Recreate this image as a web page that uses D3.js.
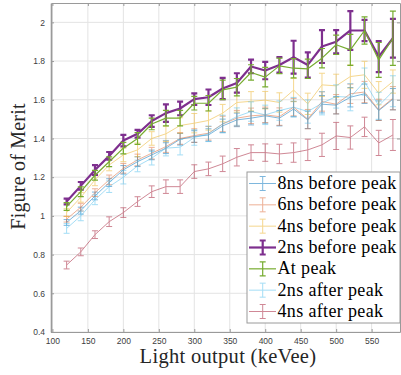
<!DOCTYPE html>
<html><head><meta charset="utf-8">
<script src="https://cdn.jsdelivr.net/npm/d3@7"></script>
<style>
html,body{margin:0;padding:0;background:#fff;}
svg{display:block;}
.serif{font-family:"Liberation Serif","DejaVu Serif",serif;}
.sans{font-family:"Liberation Sans",Arial,sans-serif;}
</style></head>
<body>
<svg id="chart" width="401" height="375"></svg>
<script>
const lightOutput = [120,140,160,180,200,220,240,260,280,300,320,340,360,380,400,420,440,460,480,500,520,540,560,580];

const seriesNames = ["8ns before peak","6ns before peak","4ns before peak","2ns before peak","At peak","2ns after peak","4ns after peak"];

const fom8nsBefore = [0.966,1.027,1.103,1.172,1.238,1.280,1.315,1.350,1.396,1.410,1.418,1.465,1.496,1.505,1.517,1.505,1.552,1.496,1.577,1.572,1.613,1.631,1.544,1.603];
const err8nsBefore = [0.015,0.018,0.02,0.02,0.022,0.025,0.025,0.028,0.03,0.03,0.032,0.035,0.035,0.035,0.038,0.04,0.04,0.045,0.045,0.045,0.05,0.05,0.05,0.055];

const fom6nsBefore = [0.983,1.045,1.120,1.186,1.246,1.289,1.324,1.358,1.400,1.415,1.427,1.475,1.505,1.517,1.522,1.513,1.562,1.500,1.591,1.577,1.631,1.640,1.548,1.608];
const err6nsBefore = [0.015,0.02,0.02,0.025,0.025,0.03,0.03,0.03,0.03,0.035,0.035,0.04,0.04,0.04,0.04,0.045,0.045,0.05,0.05,0.05,0.05,0.055,0.055,0.06];

const fom4nsBefore = [1.017,1.096,1.186,1.263,1.315,1.341,1.400,1.424,1.467,1.479,1.493,1.531,1.586,1.592,1.598,1.586,1.650,1.579,1.677,1.672,1.720,1.729,1.634,1.694];
const err4nsBefore = [0.02,0.025,0.03,0.03,0.035,0.035,0.035,0.04,0.04,0.05,0.05,0.045,0.05,0.05,0.045,0.05,0.06,0.055,0.06,0.06,0.06,0.07,0.06,0.06];

const fom2nsBefore = [1.074,1.155,1.237,1.310,1.389,1.424,1.490,1.531,1.555,1.603,1.613,1.658,1.687,1.772,1.751,1.780,1.820,1.780,1.875,1.900,1.958,1.958,1.823,1.918];
const err2nsBefore = [0.015,0.02,0.025,0.02,0.03,0.02,0.03,0.045,0.035,0.03,0.04,0.055,0.05,0.035,0.045,0.04,0.085,0.065,0.085,0.06,0.1,0.055,0.08,0.1];

const fomAtPeak = [1.048,1.125,1.210,1.280,1.350,1.400,1.475,1.505,1.505,1.582,1.582,1.651,1.665,1.741,1.717,1.775,1.763,1.760,1.815,1.884,1.858,1.958,1.806,1.918];
const errAtPeak = [0.02,0.025,0.025,0.025,0.03,0.03,0.03,0.04,0.04,0.035,0.04,0.05,0.045,0.04,0.05,0.04,0.05,0.05,0.05,0.05,0.08,0.07,0.09,0.14];

const fom2nsAfter = [0.935,1.000,1.083,1.151,1.200,1.258,1.298,1.350,1.355,1.405,1.424,1.475,1.513,1.539,1.522,1.544,1.562,1.539,1.582,1.617,1.613,1.694,1.569,1.644];
const err2nsAfter = [0.025,0.025,0.025,0.03,0.035,0.03,0.035,0.04,0.04,0.04,0.04,0.045,0.045,0.05,0.05,0.05,0.05,0.06,0.06,0.06,0.07,0.07,0.07,0.08];

const fom4nsAfter = [0.746,0.814,0.903,0.970,1.017,1.074,1.125,1.151,1.151,1.229,1.243,1.269,1.303,1.327,1.327,1.320,1.327,1.341,1.367,1.413,1.405,1.460,1.377,1.418];
const err4nsAfter = [0.02,0.02,0.02,0.025,0.025,0.025,0.03,0.035,0.035,0.035,0.035,0.04,0.045,0.04,0.045,0.05,0.05,0.055,0.06,0.07,0.06,0.05,0.065,0.08];

const xTicks = [100,150,200,250,300,350,400,450,500,550];
const yTicks = [0.4,0.6,0.8,1,1.2,1.4,1.6,1.8,2];

const seriesData = [
  {name: seriesNames[0], y: fom8nsBefore, e: err8nsBefore, color: "#0072BD", op: 0.5, w: 1},
  {name: seriesNames[1], y: fom6nsBefore, e: err6nsBefore, color: "#D95319", op: 0.45, w: 1},
  {name: seriesNames[2], y: fom4nsBefore, e: err4nsBefore, color: "#EDB120", op: 0.5, w: 1},
  {name: seriesNames[3], y: fom2nsBefore, e: err2nsBefore, color: "#7E2F8E", op: 1, w: 2.2},
  {name: seriesNames[4], y: fomAtPeak, e: errAtPeak, color: "#77AC30", op: 1, w: 1.2},
  {name: seriesNames[5], y: fom2nsAfter, e: err2nsAfter, color: "#4DBEEE", op: 0.5, w: 1},
  {name: seriesNames[6], y: fom4nsAfter, e: err4nsAfter, color: "#A2142F", op: 0.5, w: 1}
];

const svg = d3.select("#chart");
const L = 51, R = 400, T = 3, B = 332;
const x = d3.scaleLinear().domain([98, 590]).range([L, R]);
const y = d3.scaleLinear().domain([0.4, 2.1]).range([B, T]);

// grid
const grid = svg.append("g");
grid.selectAll("line.gx").data(xTicks).join("line")
  .attr("x1", d => x(d)).attr("x2", d => x(d)).attr("y1", T).attr("y2", B)
  .attr("stroke", "#e3e3e3").attr("stroke-width", 1);
grid.selectAll("line.gy").data(yTicks).join("line")
  .attr("x1", L).attr("x2", R).attr("y1", d => y(d)).attr("y2", d => y(d))
  .attr("stroke", "#e3e3e3").attr("stroke-width", 1);

// axes
const axisColor = "#9a9a9a";
const xAxisB = svg.append("g").attr("transform", `translate(0,${B})`)
  .call(d3.axisBottom(x).tickValues(xTicks).tickSizeInner(-3).tickSizeOuter(0).tickPadding(6));
const xAxisT = svg.append("g").attr("transform", `translate(0,${T})`)
  .call(d3.axisTop(x).tickValues(xTicks).tickSizeInner(-3).tickSizeOuter(0).tickFormat(""));
const yAxisL = svg.append("g").attr("transform", `translate(${L},0)`)
  .call(d3.axisLeft(y).tickValues(yTicks).tickSizeInner(-3).tickSizeOuter(0).tickPadding(6).tickFormat(d3.format("")));
const yAxisR = svg.append("g").attr("transform", `translate(${R},0)`)
  .call(d3.axisRight(y).tickValues(yTicks).tickSizeInner(-3).tickSizeOuter(0).tickFormat(""));
[xAxisB, xAxisT, yAxisL, yAxisR].forEach(g => {
  g.attr("font-family", null).attr("font-size", null);
  g.select(".domain").attr("stroke", axisColor).attr("stroke-width", 1);
  g.selectAll(".tick line").attr("stroke", axisColor);
  g.selectAll("text").attr("fill", "#404040").attr("class", "sans")
    .attr("font-size", "8.5px");
});
yAxisL.select(".domain").attr("stroke-width", 1.6);

// series
const plot = svg.append("g");
seriesData.forEach(s => {
  const g = plot.append("g").attr("opacity", s.op);
  const pts = lightOutput.map((xv, i) => ({x: xv, y: s.y[i], e: s.e[i]}));
  g.append("path").datum(pts)
    .attr("fill", "none").attr("stroke", s.color).attr("stroke-width", s.w)
    .attr("stroke-linejoin", "round")
    .attr("d", d3.line().x(d => x(d.x)).y(d => y(d.y)));
  const cw = 3;
  const eb = g.selectAll("g.eb").data(pts).join("g");
  eb.append("path")
    .attr("fill", "none").attr("stroke", s.color).attr("stroke-width", s.w)
    .attr("d", d => {
      const cx = x(d.x), y1 = y(d.y + d.e), y2 = y(d.y - d.e);
      return `M${cx},${y1}V${y2}M${cx - cw},${y1}H${cx + cw}M${cx - cw},${y2}H${cx + cw}`;
    });
});

// legend
const lg = svg.append("g");
const lx = 247, ly = 172, lw = 153, lh = 151;
lg.append("rect").attr("x", lx).attr("y", ly).attr("width", lw).attr("height", lh)
  .attr("fill", "#fff").attr("stroke", axisColor).attr("stroke-width", 1);
const rowY = d3.scaleLinear().domain([0, 6]).range([183.5, 311.5]);
seriesData.forEach((s, i) => {
  const cy = rowY(i);
  const g = lg.append("g").attr("opacity", s.op);
  g.append("line").attr("x1", 249).attr("x2", 276).attr("y1", cy).attr("y2", cy)
    .attr("stroke", s.color).attr("stroke-width", s.w);
  g.append("path").attr("fill", "none").attr("stroke", s.color).attr("stroke-width", s.w)
    .attr("d", `M262.7,${cy - 7}V${cy + 7}M259.7,${cy - 7}H265.7M259.7,${cy + 7}H265.7`);
  lg.append("text").attr("x", 277.5).attr("y", cy + 5.5).attr("class", "serif")
    .attr("font-size", "18px").attr("letter-spacing", "0.35px")
    .attr("fill", "#000").text(s.name);
});

// axis labels
svg.append("text").attr("x", 228).attr("y", 363).attr("text-anchor", "middle").attr("class", "serif")
  .attr("font-size", "20.5px").attr("letter-spacing", "0.3px")
  .attr("fill", "#262626").text("Light output (keVee)");
svg.append("text").attr("transform", "translate(25,166.5) rotate(-90)").attr("text-anchor", "middle").attr("class", "serif")
  .attr("font-size", "20px").attr("letter-spacing", "0.2px")
  .attr("fill", "#262626").text("Figure of Merit");
</script>
</body></html>
